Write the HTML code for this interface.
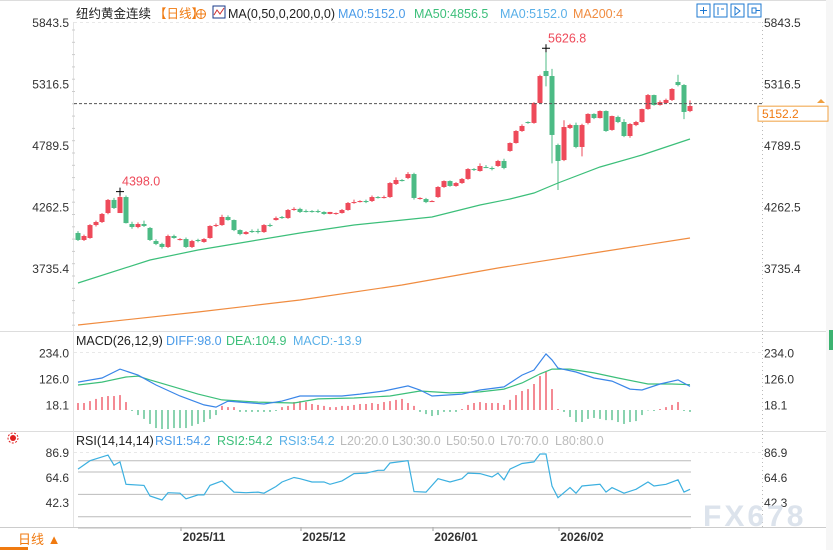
<!DOCTYPE html>
<html><head><meta charset="utf-8">
<style>
html,body{margin:0;padding:0;background:#fff;width:833px;height:550px;overflow:hidden}
svg{display:block;font-family:"Liberation Sans","Noto Sans CJK SC",sans-serif}
</style></head>
<body>
<svg id="c" width="833" height="550" viewBox="0 0 833 550">
  <rect x="0" y="0" width="833" height="550" fill="#fff"/>
  <line x1="0" y1="0.5" x2="833" y2="0.5" stroke="#ddd"/>
  <line x1="829.5" y1="0" x2="829.5" y2="527" stroke="#ccc"/>
  <line x1="0" y1="331.5" x2="829" y2="331.5" stroke="#ddd"/>
  <line x1="0" y1="431.5" x2="829" y2="431.5" stroke="#ddd"/>
  <line x1="0" y1="527.5" x2="833" y2="527.5" stroke="#ccc"/>
  <line x1="762.5" y1="22" x2="762.5" y2="527" stroke="#bbb" stroke-dasharray="1,3"/>
  <line x1="73.5" y1="22" x2="73.5" y2="527" stroke="#e4e4e4"/>
  <line x1="74" y1="22.5" x2="762" y2="22.5" stroke="#e8e8e8" stroke-dasharray="3,3"/>
  <line x1="74" y1="352.5" x2="762" y2="352.5" stroke="#e8e8e8" stroke-dasharray="3,3"/>
  <line x1="74" y1="452.5" x2="762" y2="452.5" stroke="#e8e8e8" stroke-dasharray="3,3"/>
  <rect x="826" y="0" width="7" height="550" fill="#f6f6f6"/>
  <rect x="829" y="330" width="4" height="20" fill="#3cb371"/>

  <g font-size="12.5">
    <text x="76" y="18" fill="#222">纽约黄金连续</text>
    <text x="154" y="18" fill="#f07a10">【日线】</text>
    <g><circle cx="201" cy="14" r="4.5" fill="none" stroke="#f07a10"/><line x1="196" y1="14" x2="206" y2="14" stroke="#f07a10"/><line x1="201" y1="9" x2="201" y2="19" stroke="#f07a10"/></g>
    <g><rect x="213" y="6" width="12" height="12" fill="#fff" stroke="#1a3a8a"/><polyline points="214,15 217,10 220,14 224,8" fill="none" stroke="#d03030"/></g>
    <text x="228" y="18" fill="#222">MA(0,50,0,200,0,0)</text>
    <text x="338" y="18" fill="#4a9be8">MA0:5152.0</text>
    <text x="414" y="18" fill="#3cbf7a">MA50:4856.5</text>
    <text x="500" y="18" fill="#5ab0e8">MA0:5152.0</text>
    <text x="573" y="18" fill="#f08c40">MA200:4</text>
  </g>
  <g fill="none" stroke="#1e78d2">
    <rect x="697" y="4" width="13" height="13"/>
    <rect x="714" y="4" width="13" height="13"/>
    <rect x="731" y="4" width="13" height="13"/>
    <rect x="748" y="4" width="13" height="13"/>
    <path d="M703.5 7v7M700 10.5h7M718 7v8M721 9h3M735 7v8l5-4z M752 8h4v5h-4z M756 10.5h4" stroke-width="1"/>
  </g>

  <g id="axes" font-size="12" fill="#333"></g>
  <g id="main"></g>
  <g id="macd"></g>
  <g id="rsi"></g>

  <g font-size="12.5">
    <text x="76" y="345" fill="#222">MACD(26,12,9)</text>
    <text x="166" y="345" fill="#4a9be8">DIFF:98.0</text>
    <text x="226" y="345" fill="#3cbf7a">DEA:104.9</text>
    <text x="293" y="345" fill="#5ab0e8">MACD:-13.9</text>
  </g>
  <g font-size="12.5">
    <text x="76" y="445" fill="#222">RSI(14,14,14)</text>
    <text x="155" y="445" fill="#4a9be8">RSI1:54.2</text>
    <text x="217" y="445" fill="#3cbf7a">RSI2:54.2</text>
    <text x="279" y="445" fill="#5ab0e8">RSI3:54.2</text>
    <text x="340" y="445" fill="#bbb">L20:20.0</text>
    <text x="392" y="445" fill="#bbb">L30:30.0</text>
    <text x="446" y="445" fill="#bbb">L50:50.0</text>
    <text x="500" y="445" fill="#bbb">L70:70.0</text>
    <text x="555" y="445" fill="#bbb">L80:80.0</text>
  </g>
  <g><circle cx="13" cy="438" r="3" fill="#e02020"/><circle cx="13" cy="438" r="5" fill="none" stroke="#e02020" stroke-dasharray="2,1.5"/></g>

  <rect x="0" y="528" width="72" height="22" fill="#fff"/>
  <line x1="0" y1="548.5" x2="28" y2="548.5" stroke="#f07a10" stroke-width="3"/>
  <text x="18" y="544" font-size="13" fill="#f07a10">日线 ▲</text>
  <text x="703" y="526" font-size="30" fill="#dce3ec" font-weight="bold" letter-spacing="3">FX678</text>
</svg>
<script>
const opens  = [4044,3984,4001,4112,4138,4215,4327,4215,4352,4121,4095,4121,4087,3975,3950,3924,4018,3984,3992,3924,3984,3967,4001,4104,4112,4181,4155,4069,4035,4061,4061,4052,4112,4155,4181,4172,4241,4250,4232,4232,4232,4224,4207,4207,4215,4241,4301,4309,4318,4318,4352,4344,4352,4464,4498,4515,4549,4335,4335,4309,4352,4438,4489,4447,4472,4507,4592,4575,4609,4601,4618,4661,4747,4815,4918,4995,4987,5158,5432,5389,4798,4669,4944,4969,4781,4987,5064,5029,5089,4927,5038,4995,4875,4969,4995,5106,5226,5141,5158,5184,5338,5312,5089];
const closes = [3984,4018,4112,4138,4207,4327,4258,4352,4129,4095,4121,4104,3984,3950,3924,4018,4001,3992,3924,3975,3975,3992,4104,4112,4181,4155,4069,4035,4052,4052,4052,4112,4104,4172,4172,4241,4250,4224,4224,4224,4224,4207,4224,4215,4241,4301,4309,4318,4309,4352,4344,4352,4472,4498,4489,4549,4344,4344,4309,4318,4438,4489,4447,4472,4507,4592,4584,4618,4601,4592,4661,4601,4815,4918,4961,4987,5158,5389,5389,4884,4661,4952,4969,4781,4969,5064,5029,5089,4918,5046,4995,4875,4978,4995,5106,5226,5141,5166,5184,5278,5312,5081,5132];
const highs  = [4060,4030,4120,4150,4215,4335,4345,4398,4365,4140,4135,4150,4095,3990,3960,4030,4030,4000,4005,3985,3995,4000,4110,4125,4200,4195,4160,4075,4060,4075,4080,4120,4125,4185,4190,4250,4265,4260,4245,4240,4245,4230,4225,4220,4250,4310,4330,4325,4330,4365,4360,4365,4480,4520,4505,4565,4560,4350,4345,4325,4445,4495,4495,4480,4515,4600,4600,4640,4625,4615,4670,4680,4820,4925,4975,5000,5165,5400,5626.8,5450,4810,5010,4980,4990,4980,5070,5070,5095,5095,5050,5050,5020,4985,5005,5110,5235,5230,5180,5195,5285,5400,5320,5180];
const lows   = [3975,3975,3995,4100,4130,4205,4250,4300,4125,4080,4085,4095,3975,3940,3910,3915,3995,3980,3915,3915,3965,3960,3995,4095,4105,4150,4060,4025,4030,4045,4040,4045,4095,4150,4165,4165,4235,4215,4220,4218,4215,4200,4205,4200,4210,4235,4295,4305,4300,4310,4340,4340,4345,4455,4485,4505,4330,4330,4300,4310,4345,4430,4440,4440,4465,4500,4575,4570,4600,4580,4610,4590,4740,4810,4910,4980,4980,5150,5300,4640,4412,4660,4935,4770,4700,4975,5020,5025,4910,4920,4985,4865,4860,4960,4990,5100,5135,5135,5150,5175,5300,5020,5080];
const ma50Idx  = [0,12,20,29,37,46,59,67,72,76,80,87,94,102];
const ma50Vals = [3615,3812,3898,3975,4044,4112,4181,4284,4335,4387,4472,4609,4712,4849];
const ma200Idx  = [0,20,37,54,70,87,102];
const ma200Vals = [3255,3367,3470,3598,3744,3881,4001];
const priceTicks = [5843.5,5316.5,4789.5,4262.5,3735.4];
const lastPrice = 5152.2;
const hiMark = {i:78, v:5626.8, label:"5626.8"};
const loMark = {i:7, v:4398.0, label:"4398.0"};

const diffIdx  = [0,4,7,10,13,17,21,23,25,27,31,34,37,44,47,51,55,57,59,64,67,71,74,76,78,79,80,83,86,89,92,94,97,100,102];
const diffVals = [116,133,170,145,104,58,21,12,37,33,25,37,58,58,66,79,100,83,58,66,83,96,145,166,233,208,174,158,133,120,87,83,108,125,98];
const deaIdx  = [0,4,8,10,12,16,20,24,30,36,40,46,52,57,62,67,71,74,77,79,82,86,90,95,99,102];
const deaVals = [104,116,137,141,125,96,66,42,33,29,46,50,58,79,71,75,87,112,150,170,170,154,133,108,108,105];
const macdHist = [29,29,37,46,54,58,58,62,33,-4,-21,-37,-58,-75,-79,-79,-75,-75,-75,-66,-58,-50,-37,-21,17,12,12,-8,-8,-8,-8,-8,-8,-4,12,17,33,37,33,25,21,17,12,12,17,17,21,25,25,29,25,33,37,42,46,29,17,-8,-17,-25,-21,-8,-8,-8,4,21,29,33,29,29,29,21,42,62,79,87,108,141,158,87,4,-8,-29,-50,-50,-37,-33,-37,-42,-42,-50,-58,-50,-46,-21,-2,-4,4,12,21,33,-4,-8];
const macdTicks = [234.0,126.0,18.1];

const rsiIdx  = [0,2,5,6,7,8,11,12,14,15,17,18,20,21,22,24,26,28,30,31,33,34,36,37,39,41,42,44,46,48,50,51,52,55,56,58,60,62,64,65,67,69,70,71,72,74,76,77,78,79,80,82,83,84,87,88,89,91,93,95,96,98,100,101,102];
const rsiVals = [72.5,80,85,76,79,59,58,48.5,45,51.5,51,46,49.5,49.5,58,62,52,51.5,52,51,57,61,65,64,61,61,59,62,68.5,69,71.5,71.5,78,80,52.5,52,64,61,64,69,68.5,65.5,69,63,72.5,77.5,79,86,86,57.5,47,56,51,57.5,59,52,56,51,54.5,61,57.5,59,63,52,54.5];
const rsiTicks = [86.9,64.6,42.3];
const rsiLevels = [80,70,50,30,20];

const dateLabels = ["2025/11","2025/12","2026/01","2026/02"];
const dateIdx = [21,41,63,84];

const NS="http://www.w3.org/2000/svg";
const X = i => 78 + i*6;
const yP = p => 23 + (5843.5 - p) / 8.57;
const yM = v => 410 - v / 4.154;
const yR = v => 453 + (86.9 - v) * 1.121;
const UP="#ee4a5a", DN="#4cbb85";
function mk(tag, parent, attrs){const e=document.createElementNS(NS,tag);for(const k in attrs)e.setAttribute(k,attrs[k]);parent.appendChild(e);return e;}

const axes=document.getElementById('axes');
const main=document.getElementById('main');
const macd=document.getElementById('macd');
const rsi=document.getElementById('rsi');

priceTicks.forEach((t,k)=>{
  const y=yP(t);
  const a=mk('text',axes,{x:69,y:y+4,'text-anchor':'end'});a.textContent=t.toFixed(1);
  
  
  const b=mk('text',axes,{x:764,y:y+4});b.textContent=t.toFixed(1);
  
  
});
for(let y=30;y<330;y+=12.3){mk('line',axes,{x1:72,x2:75,y1:y,y2:y,stroke:'#ccc'});}

for(let i=0;i<opens.length;i++){
  const o=opens[i],c=closes[i],up=c>=o,col=up?UP:DN,x=X(i);
  const g=mk('g',main,{});
  
  
  mk('line',g,{x1:x,x2:x,y1:yP(highs[i]),y2:yP(lows[i]),stroke:col,'stroke-width':1});
  const t=Math.min(yP(o),yP(c)),h=Math.max(1,Math.abs(yP(o)-yP(c)));
  mk('rect',g,{x:x-2.5,y:t,width:5,height:h,fill:col});
}
function line(parent,idx,vals,ys,col,name){
  const pts=idx.map((ix,k)=>X(ix)+','+ys(vals[k]).toFixed(1)).join(' ');
  const p=mk('polyline',parent,{points:pts,fill:'none',stroke:col,'stroke-width':1.2});
  
  
}
line(main,ma50Idx,ma50Vals,yP,'#3cbf7a','ma50-line');
line(main,ma200Idx,ma200Vals,yP,'#f08c40','ma200-line');

const ly=yP(lastPrice);
const lp=mk('line',main,{x1:74,x2:762,y1:ly,y2:ly,stroke:'#555','stroke-dasharray':'3,2'});


const lb=mk('rect',main,{x:758,y:ly+2.5,width:70,height:15,fill:'#fff',stroke:'#f0a040'});


const lt=mk('text',main,{x:762,y:ly+14.5,'font-size':12,fill:'#f07a10'});lt.textContent=lastPrice.toFixed(1);


mk('path',main,{d:'M817 103l4-4 4 4z',fill:'#f0a040'});

[hiMark,loMark].forEach(m=>{
  const x=X(m.i),y=yP(m.v);
  mk('path',main,{d:`M${x-4} ${y}h8M${x} ${y-4}v8`,stroke:'#000','stroke-width':1});
  const t=mk('text',main,{x:x+2,y:y-6,'font-size':12.5,fill:'#ee4a5a'});t.textContent=m.label;
  
  
});

macdTicks.forEach(t=>{
  const y=yM(t);
  const a=mk('text',axes,{x:69,y:y+4,'text-anchor':'end'});a.textContent=t.toFixed(1);
  
  
  const b=mk('text',axes,{x:764,y:y+4});b.textContent=t.toFixed(1);
  
  
});
macdHist.forEach((v,i)=>{
  const b=mk('line',macd,{x1:X(i),x2:X(i),y1:yM(0),y2:yM(v),stroke:v>=0?UP:DN,'stroke-width':1.3});
  
  
});
line(macd,deaIdx,deaVals,yM,'#3cbf7a','dea-line');
line(macd,diffIdx,diffVals,yM,'#3a86e8','diff-line');

rsiTicks.forEach(t=>{
  const y=yR(t);
  const a=mk('text',axes,{x:69,y:y+4,'text-anchor':'end'});a.textContent=t.toFixed(1);
  
  
  const b=mk('text',axes,{x:764,y:y+4});b.textContent=t.toFixed(1);
  
  
});
rsiLevels.forEach(l=>{
  const g=mk('line',rsi,{x1:78,x2:691,y1:yR(l),y2:yR(l),stroke:'#bbb','stroke-width':1});
  
  
});
line(rsi,rsiIdx,rsiVals,yR,'#3cb0e0','rsi-line');

dateLabels.forEach((d,k)=>{
  const x=X(dateIdx[k]);
  mk('line',axes,{x1:x-23,x2:x-23,y1:527,y2:531,stroke:'#999'});
  const t=mk('text',axes,{x:x,y:541,'text-anchor':'middle','font-weight':'bold','font-size':12,fill:'#333'});t.textContent=d;
  
  
});
</script>
</body></html>
